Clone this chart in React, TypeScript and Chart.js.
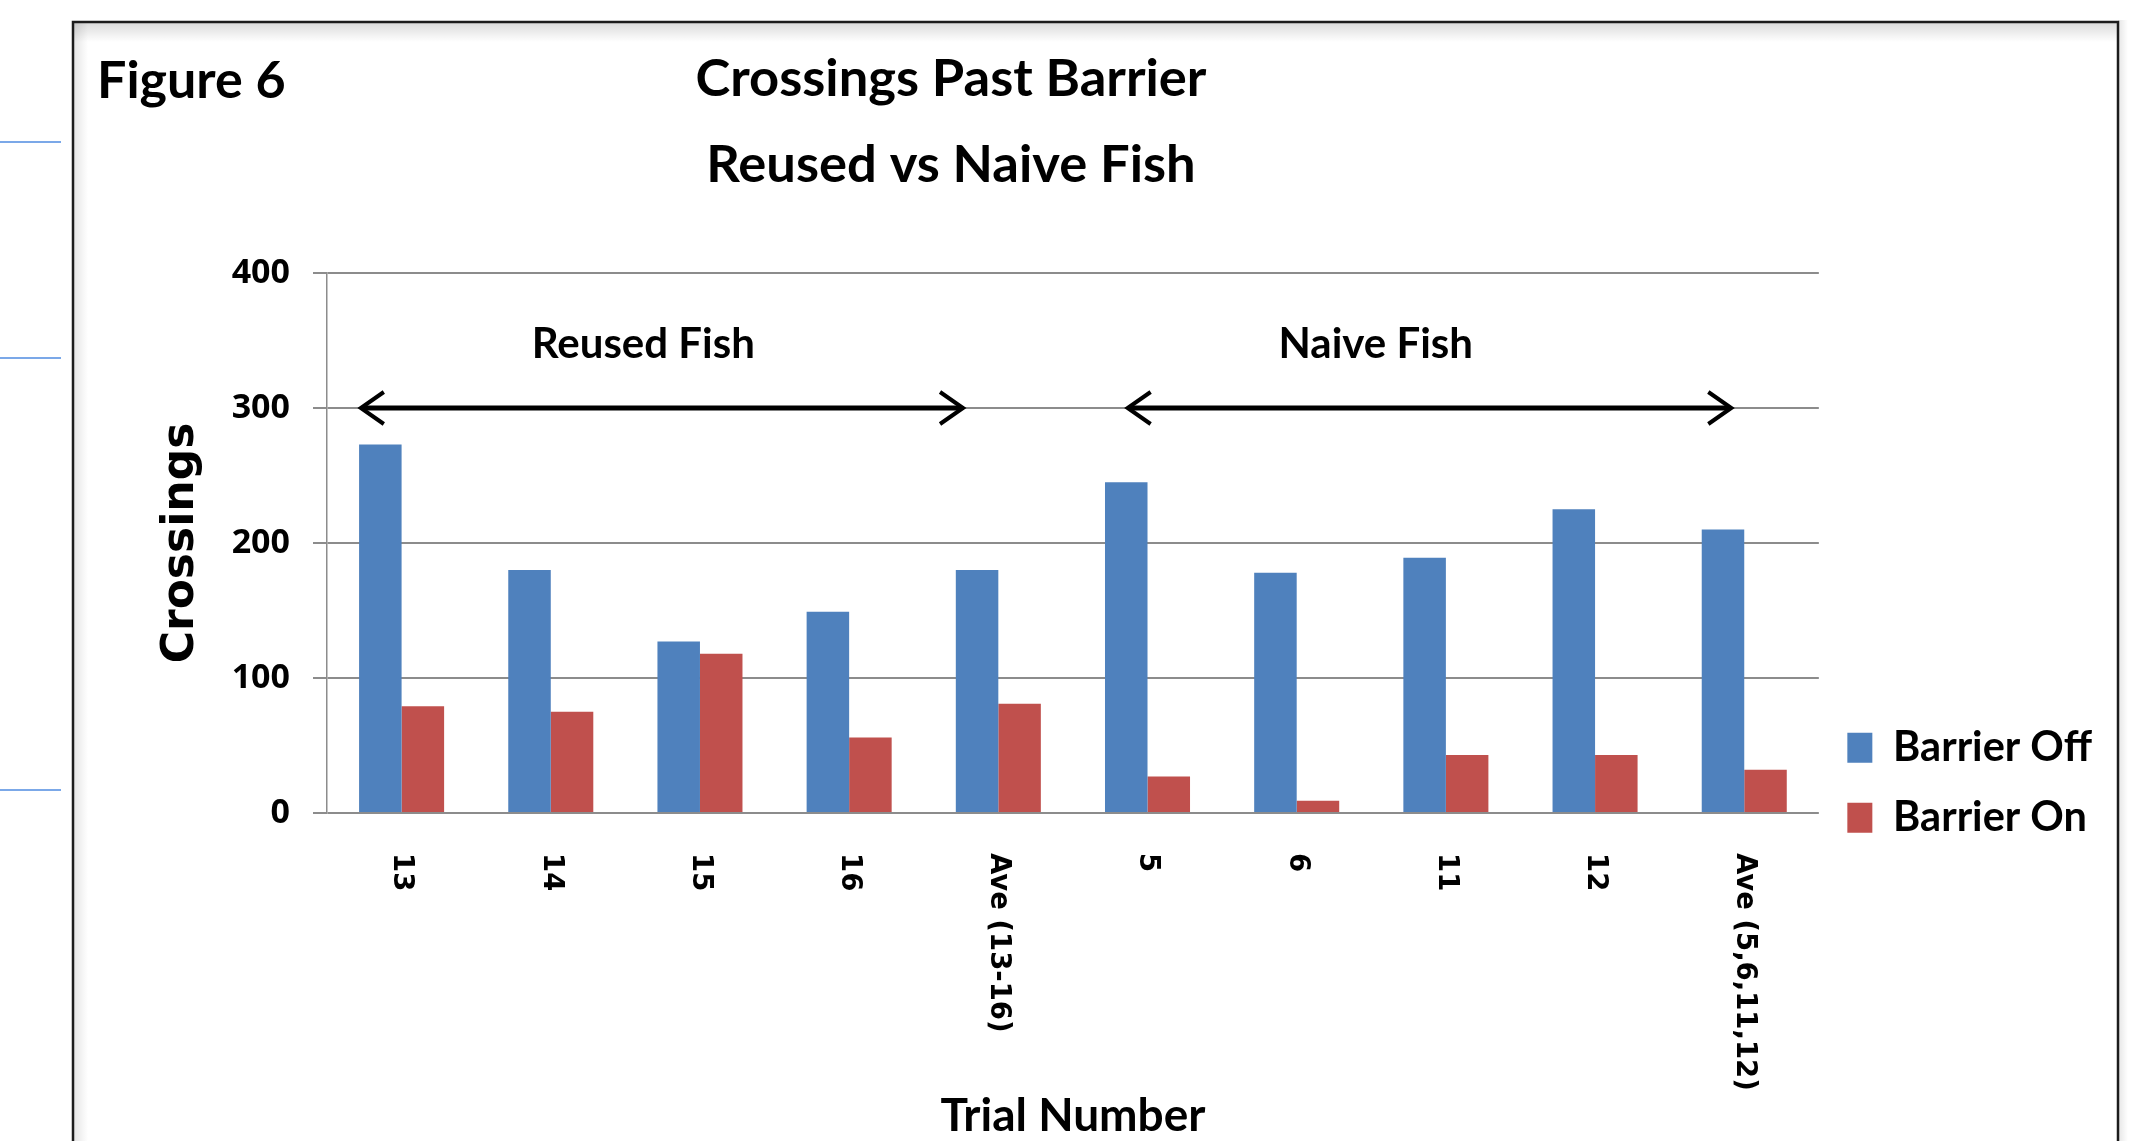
import React, { useEffect, useRef } from 'react';
import { Chart, registerables } from 'chart.js';

Chart.register(...registerables);

// ---- data ----
const categories = ['13', '14', '15', '16', 'Ave (13-16)', '5', '6', '11', '12', 'Ave (5,6,11,12)'];
const barrierOff = [273, 180, 127, 149, 180, 245, 178, 189, 225, 210];
const barrierOn = [79, 75, 118, 56, 81, 27, 9, 43, 43, 32];
const seriesNames = ['Barrier Off', 'Barrier On'];
const yTicks = [0, 100, 200, 300, 400];
const titleLines = ['Crossings Past Barrier', 'Reused vs Naive Fish'];
const figureLabel = 'Figure 6';
const yTitle = 'Crossings';
const xTitle = 'Trial Number';
const groupNames = ['Reused Fish', 'Naive Fish'];
// group annotation spans, in category-index units, and value levels
const groupStart = [-0.28, 4.86];
const groupEnd = [3.77, 8.92];
const groupLabelCenter = [1.62, 6.53];
const groupArrowValue = 300;
const groupLabelValue = 347;

const BLUE = '#4f81bd';
const RED = '#c0504d';

const LEGEND_FONT = { family: 'Lato', weight: 'bold', size: 41.5 };
const LEGEND_BOX_W = 25;
const LEGEND_PAD = 28.5;
const PLOT_RIGHT = 1818;
const CANVAS_W = 2136;
const CANVAS_H = 1141;

const decorPlugin = {
  id: 'decor',
  beforeDraw(chart: any) {
    const ctx = chart.ctx as CanvasRenderingContext2D;
    const W = chart.width;
    const H = chart.height;
    ctx.save();
    ctx.fillStyle = '#ffffff';
    ctx.fillRect(0, 0, W, H);
    ctx.strokeStyle = '#4f8be0';
    ctx.lineWidth = 1.5;
    [142, 358, 790].forEach((yy) => {
      ctx.beginPath();
      ctx.moveTo(0, yy);
      ctx.lineTo(61, yy);
      ctx.stroke();
    });
    let g = ctx.createLinearGradient(0, 23, 0, 42);
    g.addColorStop(0, 'rgba(0,0,0,0.14)');
    g.addColorStop(1, 'rgba(0,0,0,0)');
    ctx.fillStyle = g;
    ctx.fillRect(74, 23, 2043, 19);
    g = ctx.createLinearGradient(74, 0, 88, 0);
    g.addColorStop(0, 'rgba(0,0,0,0.10)');
    g.addColorStop(1, 'rgba(0,0,0,0)');
    ctx.fillStyle = g;
    ctx.fillRect(74, 23, 14, H - 23);
    g = ctx.createLinearGradient(2118, 0, 2128, 0);
    g.addColorStop(0, 'rgba(0,0,0,0.10)');
    g.addColorStop(1, 'rgba(0,0,0,0)');
    ctx.fillStyle = g;
    ctx.fillRect(2118, 20, 10, H - 20);
    ctx.strokeStyle = '#1c1c1c';
    ctx.lineWidth = 2.5;
    ctx.beginPath();
    ctx.moveTo(73, H + 5);
    ctx.lineTo(73, 22);
    ctx.lineTo(2118, 22);
    ctx.lineTo(2118, H + 5);
    ctx.stroke();
    ctx.restore();
  },
};

const annotationPlugin = {
  id: 'annot',
  afterDatasetsDraw(chart: any) {
    const ctx = chart.ctx as CanvasRenderingContext2D;
    const xs = chart.scales.x;
    const ys = chart.scales.y;
    ctx.save();
    ctx.strokeStyle = '#000';
    ctx.fillStyle = '#000';
    const yy = ys.getPixelForValue(groupArrowValue);
    for (let i = 0; i < groupNames.length; i++) {
      const x0 = xs.getPixelForValue(groupStart[i]);
      const x1 = xs.getPixelForValue(groupEnd[i]);
      ctx.lineWidth = 5;
      ctx.lineCap = 'butt';
      ctx.beginPath();
      ctx.moveTo(x0 + 2, yy);
      ctx.lineTo(x1 - 2, yy);
      ctx.stroke();
      ctx.lineWidth = 4;
      ctx.lineJoin = 'miter';
      ctx.beginPath();
      ctx.moveTo(x0 + 24, yy - 16);
      ctx.lineTo(x0 + 1, yy);
      ctx.lineTo(x0 + 24, yy + 16);
      ctx.stroke();
      ctx.beginPath();
      ctx.moveTo(x1 - 24, yy - 16);
      ctx.lineTo(x1 - 1, yy);
      ctx.lineTo(x1 - 24, yy + 16);
      ctx.stroke();
      ctx.font = 'bold 42px Lato';
      ctx.textAlign = 'center';
      ctx.textBaseline = 'middle';
      ctx.fillText(groupNames[i], xs.getPixelForValue(groupLabelCenter[i]), ys.getPixelForValue(groupLabelValue));
    }
    ctx.restore();
  },
  afterDraw(chart: any) {
    const ctx = chart.ctx as CanvasRenderingContext2D;
    const xs = chart.scales.x;
    const area = chart.chartArea;
    ctx.save();
    ctx.fillStyle = '#000';
    ctx.font = 'bold 27.5px "DejaVu Sans"';
    ctx.textAlign = 'left';
    ctx.textBaseline = 'middle';
    (chart.data.labels as string[]).forEach((lab, i) => {
      const px = xs.getPixelForValue(i);
      ctx.save();
      ctx.translate(px, area.bottom + 40);
      ctx.rotate(Math.PI / 2);
      ctx.fillText(lab, 0, 0);
      ctx.restore();
    });
    ctx.textBaseline = 'alphabetic';
    ctx.font = 'bold 52px Lato';
    ctx.textAlign = 'left';
    ctx.fillText(figureLabel, 97, 98);
    ctx.font = 'bold 52.5px Lato';
    ctx.textAlign = 'center';
    ctx.fillText(titleLines[0], 951, 96);
    ctx.fillText(titleLines[1], 951, 182);
    ctx.restore();
  },
};

function legendWidth(): number {
  const c = document.createElement('canvas').getContext('2d');
  let w = 197;
  if (c) {
    c.font = `${LEGEND_FONT.weight} ${LEGEND_FONT.size}px ${LEGEND_FONT.family}`;
    w = Math.max(...seriesNames.map((s) => c.measureText(s).width));
  }
  return LEGEND_PAD + LEGEND_BOX_W + LEGEND_FONT.size / 2 + w + 10;
}

export default function App() {
  const canvasRef = useRef<HTMLCanvasElement | null>(null);

  useEffect(() => {
    document.body.style.margin = '0';
    document.body.style.overflow = 'hidden';
    const canvas = canvasRef.current;
    if (!canvas) return;
    const rightPad = Math.max(0, CANVAS_W - PLOT_RIGHT - Math.ceil(legendWidth()));
    const chart = new Chart(canvas, {
      type: 'bar',
      data: {
        labels: categories,
        datasets: [
          { label: seriesNames[0], data: barrierOff, backgroundColor: BLUE, borderWidth: 0 },
          { label: seriesNames[1], data: barrierOn, backgroundColor: RED, borderWidth: 0 },
        ],
      },
      options: {
        responsive: false,
        animation: false,
        devicePixelRatio: 1,
        datasets: { bar: { categoryPercentage: 0.57, barPercentage: 1.0 } },
        layout: { padding: { left: 160, top: 273, right: rightPad, bottom: 0 } },
        plugins: {
          title: { display: false },
          tooltip: { enabled: false },
          legend: {
            position: 'right',
            align: 'start',
            title: { display: true, text: '', padding: { top: 411, bottom: 0 } },
            labels: {
              boxWidth: LEGEND_BOX_W,
              boxHeight: 30,
              padding: LEGEND_PAD,
              color: '#000',
              font: LEGEND_FONT,
            },
          },
        },
        scales: {
          x: {
            grid: { display: false },
            border: { display: false },
            ticks: { display: false },
            title: {
              display: true,
              text: xTitle,
              color: '#000',
              font: { family: 'Lato', weight: 'bold', size: 46, lineHeight: 1 },
              padding: { top: 0, bottom: 2 },
            },
            afterFit: (s: any) => {
              s.height = 328;
            },
          },
          y: {
            min: 0,
            max: 400,
            afterBuildTicks: (s: any) => {
              s.ticks = yTicks.map((v) => ({ value: v }));
            },
            ticks: {
              padding: 23,
              color: '#000',
              font: { family: '"Open Sans"', weight: 'bold', size: 34 },
            },
            grid: { color: '#8c8c8c', lineWidth: 2, tickLength: 14 },
            border: { display: true, color: '#8c8c8c', width: 1.5 },
            title: {
              display: true,
              text: yTitle,
              color: '#000',
              font: { family: '"DejaVu Sans"', weight: 'bold', size: 44, lineHeight: 1 },
              padding: { top: 0, bottom: 0 },
            },
            afterFit: (s: any) => {
              s.width = 167;
            },
          },
        },
      } as any,
      plugins: [decorPlugin, annotationPlugin],
    });
    return () => chart.destroy();
  }, []);

  return (
    <div style={{ position: 'absolute', left: 0, top: 0, width: CANVAS_W, height: CANVAS_H }}>
      <canvas ref={canvasRef} width={CANVAS_W} height={CANVAS_H} style={{ display: 'block' }} />
    </div>
  );
}
